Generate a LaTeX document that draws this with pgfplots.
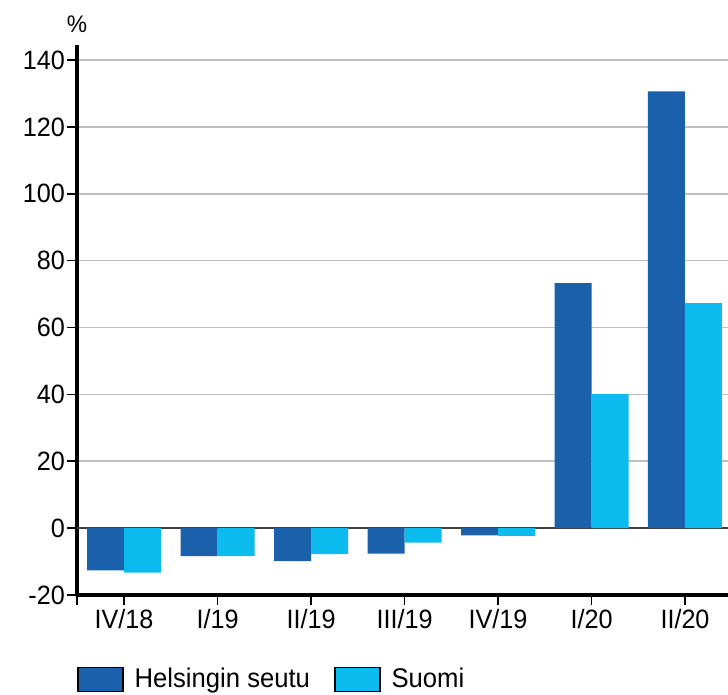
\documentclass[border=0pt]{standalone}
\usepackage{fontspec}
\setmainfont{Liberation Sans}[FakeStretch=0.95]
\usepackage{pgfplots}
\pgfplotsset{compat=1.18}
\definecolor{hel}{RGB}{26,96,170}
\definecolor{suo}{RGB}{12,188,238}
\begin{document}
\begin{tikzpicture}
\path[use as bounding box] (0,0) rectangle (728bp,695bp);
\begin{axis}[
 name=ax,
 at={(77bp,100bp)}, anchor=south west,
 scale only axis, width=651bp, height=550bp,
 xmin=-0.503, xmax=6.46, ymin=-20, ymax=144.5,
 axis lines*=left,
 axis line style={black, line width=3bp},
 ybar=0pt, bar width=37bp,
 ytick={-20,0,20,40,60,80,100,120,140},
 xtick={-0.503,0,1,2,3,4,5,6},
 xticklabels={,IV/18,I/19,II/19,III/19,IV/19,I/20,II/20},
 ymajorgrids, grid style={black!25, line width=1.6bp},
 extra y ticks={0}, extra y tick labels={},
 extra y tick style={grid style={black!75,line width=2bp}},
 tick style={black, line width=1.6bp}, major tick length=10bp, tick align=outside,
 /pgf/number format/assume math mode=true,
 ticklabel style={font=\fontsize{26.5bp}{30bp}\selectfont},
 yticklabel style={inner sep=2bp},
 xticklabel style={inner sep=4bp},
 legend style={at={([yshift=1.5bp]axis description cs:0,-0.156)}, anchor=west, draw=none, fill=none,
   inner sep=0pt, legend columns=2, font=\fontsize{27bp}{30bp}\selectfont,
   /tikz/every odd column/.append style={column sep=9bp},
   /tikz/every even column/.append style={column sep=22bp}},
 legend image code/.code={\draw[#1,draw=black,line width=1.5bp] (0bp,-13bp) rectangle (45bp,11bp);},
]
\addplot[fill=hel, draw=none] coordinates {(0,-12.6) (1,-8.4) (2,-9.9) (3,-7.6) (4,-2.2) (5,73.3) (6,130.6)};
\addplot[fill=suo, draw=none] coordinates {(0,-13.3) (1,-8.4) (2,-7.8) (3,-4.3) (4,-2.3) (5,40.1) (6,67.3)};
\legend{Helsingin seutu, Suomi}
\end{axis}
\node[font=\fontsize{24bp}{28bp}\selectfont, anchor=south, inner sep=0pt] at ([yshift=12bp]ax.north west) {\%};
\end{tikzpicture}
\end{document}
